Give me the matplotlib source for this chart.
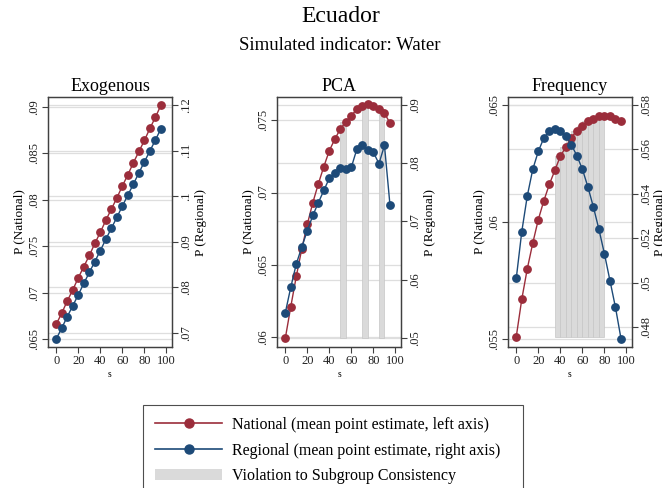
import matplotlib
matplotlib.use("Agg")
import matplotlib.pyplot as plt
from matplotlib.lines import Line2D
from matplotlib.patches import Patch

plt.rcParams["font.family"] = ["Liberation Serif", "DejaVu Serif"]

# x values (s)
s = [0, 5, 10, 15, 20, 25, 30, 35, 40, 45, 50, 55, 60, 65, 70, 75, 80, 85, 90, 95]

# Exogenous
exo_national = [0.0666, 0.0678, 0.0691, 0.0703, 0.0716, 0.0728, 0.0740, 0.0753, 0.0765, 0.0778,
                0.0790, 0.0802, 0.0815, 0.0827, 0.0840, 0.0852, 0.0864, 0.0877, 0.0889, 0.0902]
exo_regional = [0.0687, 0.0711, 0.0736, 0.0760, 0.0784, 0.0809, 0.0833, 0.0857, 0.0881, 0.0906,
                0.0930, 0.0954, 0.0979, 0.1003, 0.1027, 0.1052, 0.1076, 0.1100, 0.1124, 0.1149]

# PCA
pca_national = [0.0599, 0.0621, 0.0642, 0.0661, 0.0678, 0.0693, 0.0706, 0.0718, 0.0729, 0.0737,
                0.0744, 0.0749, 0.0753, 0.0758, 0.0760, 0.0761, 0.0760, 0.0758, 0.0755, 0.0748]
pca_regional = [0.0543, 0.0587, 0.0627, 0.0656, 0.0684, 0.0710, 0.0732, 0.0753, 0.0774, 0.0783,
                0.0791, 0.0789, 0.0793, 0.0824, 0.0831, 0.0823, 0.0818, 0.0799, 0.0830, 0.0728]

# Frequency
freq_national = [0.0551, 0.0567, 0.0580, 0.0591, 0.0601, 0.0609, 0.0616, 0.0622, 0.0628, 0.0632,
                 0.0636, 0.0639, 0.0641, 0.0643, 0.0644, 0.0645, 0.0645, 0.0645, 0.0644, 0.0643]
freq_regional = [0.0502, 0.0523, 0.0539, 0.0551, 0.0559, 0.0565, 0.0568, 0.0569, 0.0568, 0.0566,
                 0.0562, 0.0557, 0.0551, 0.0543, 0.0534, 0.0524, 0.0513, 0.0501, 0.0489, 0.0475]

# intervals (midpoints) violating subgroup consistency
exo_violations = []
pca_violations = [52.5, 72.5, 87.5]
freq_violations = [37.5, 42.5, 47.5, 52.5, 57.5, 62.5, 67.5, 72.5, 77.5]

exo_left_ticks = [0.065, 0.07, 0.075, 0.08, 0.085, 0.09]
exo_right_ticks = [0.07, 0.08, 0.09, 0.10, 0.11, 0.12]
pca_left_ticks = [0.06, 0.065, 0.07, 0.075]
pca_right_ticks = [0.05, 0.06, 0.07, 0.08, 0.09]
freq_left_ticks = [0.055, 0.06, 0.065]
freq_right_ticks = [0.048, 0.05, 0.052, 0.054, 0.056, 0.058]

RED = "#9b2d3b"
BLUE = "#1d4a78"
GRID = "#dedede"
SHADE = "#dadada"


def fmt(v):
    return f"{v:g}".lstrip("0")


panels = [
    ("Exogenous", exo_national, exo_regional, exo_violations, exo_left_ticks, exo_right_ticks,
     (0.06414, 0.09107), (0.06693, 0.12182), 48),
    ("PCA", pca_national, pca_regional, pca_violations, pca_left_ticks, pca_right_ticks,
     (0.05931, 0.07661), (0.04846, 0.09131), 277),
    ("Frequency", freq_national, freq_regional, freq_violations, freq_left_ticks, freq_right_ticks,
     (0.05466, 0.06533), (0.04712, 0.05834), 508),
]

W, H = 662, 488
fig = plt.figure(figsize=(W / 100, H / 100), dpi=100)

for title, nat, reg, viol, lt, rt, llim, rlim, x0 in panels:
    ax = fig.add_axes([x0 / W, 1 - 347 / H, 124 / W, 250 / H])
    ax2 = ax.twinx()

    # grid for both axes, drawn under everything
    for v in lt:
        ax.axhline(v, color=GRID, lw=0.9, zorder=0)
    for v in rt:
        ax.plot([0, 1], [v, v], transform=ax2.get_yaxis_transform(), color=GRID, lw=0.9, zorder=0)

    # violation bars
    base = min(nat)
    for m in viol:
        i = s.index(m - 2.5)
        top = max(nat[i], nat[i + 1])
        ax.bar(m, top - base, bottom=base, width=5, color=SHADE, edgecolor="#c6c6c6",
               linewidth=0.5, zorder=1)

    ax.plot(s, nat, color=RED, marker="o", ms=5.3, lw=1, zorder=3)
    ax.plot(s, reg, color=BLUE, marker="o", ms=5.3, lw=1, zorder=4, transform=ax2.transData)

    ax.set_xlim(-7.5, 105)
    ax.set_ylim(*llim)
    ax2.set_ylim(*rlim)
    ax.set_xticks([0, 20, 40, 60, 80, 100])
    ax.set_yticks(lt, [fmt(v) for v in lt])
    ax2.set_yticks(rt, [fmt(v) for v in rt])

    for a in (ax, ax2):
        a.tick_params(axis="both", direction="out", length=4, width=0.8, color="#404040",
                      labelsize=9, labelcolor="#222222", pad=2)
        for sp in a.spines.values():
            sp.set_color("#404040")
            sp.set_linewidth(0.9)
    plt.setp(ax.get_yticklabels(), rotation=90, va="center")
    plt.setp(ax2.get_yticklabels(), rotation=90, va="center")

    ax.set_xlabel("s", fontsize=7, labelpad=2)
    ax.set_ylabel("P (National)", fontsize=9.5, labelpad=2)
    ax2.set_ylabel("P (Regional)", fontsize=9.5, labelpad=1 if title == "Frequency" else 2)
    ax.set_title(title, fontsize=13, pad=4)

fig.text(341 / W, 1 - 17 / H, "Ecuador", ha="center", va="center", fontsize=17)
fig.text(340 / W, 1 - 45 / H, "Simulated indicator: Water", ha="center", va="center", fontsize=13.5)

handles = [
    Line2D([], [], color=RED, marker="o", ms=6.5, lw=1.2),
    Line2D([], [], color=BLUE, marker="o", ms=6.5, lw=1.2),
    Patch(facecolor=SHADE, edgecolor="none"),
]
labels = ["National (mean point estimate, left axis)",
          "Regional (mean point estimate, right axis)",
          "Violation to Subgroup Consistency"]
leg = fig.legend(handles, labels, loc="upper left",
                 bbox_to_anchor=(143 / W, 1 - 405 / H, (523 - 143) / W, 0), mode="expand",
                 borderaxespad=0, frameon=True, fancybox=False, edgecolor="#222222",
                 fontsize=11.5, handlelength=4.2, handletextpad=0.6, labelspacing=0.6,
                 borderpad=0.75)
leg.get_frame().set_linewidth(0.8)

fig.savefig("out.png", dpi=100)
